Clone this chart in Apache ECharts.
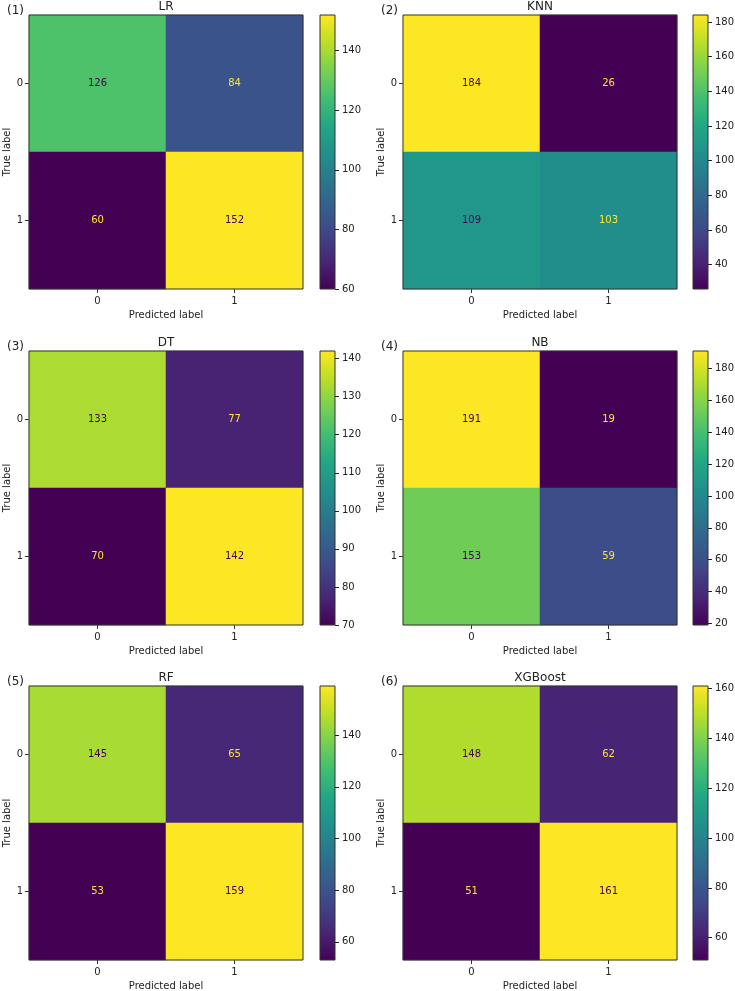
<!DOCTYPE html>
<html>
<head>
<meta charset="utf-8">
<script src="https://cdn.jsdelivr.net/npm/echarts@6/dist/echarts.min.js"></script>
<style>
html,body{margin:0;padding:0;background:#fff;}
#chart{width:735px;height:991px;}
</style>
</head>
<body>
<div id="chart"></div>
<script>
// ---- data ----
const models = ['LR', 'KNN', 'DT', 'NB', 'RF', 'XGBoost'];
const panelTags = ['(1)', '(2)', '(3)', '(4)', '(5)', '(6)'];
const classes = ['0', '1'];
const lrValues = [[126, 84], [60, 152]];
const knnValues = [[184, 26], [109, 103]];
const dtValues = [[133, 77], [70, 142]];
const nbValues = [[191, 19], [153, 59]];
const rfValues = [[145, 65], [53, 159]];
const xgbValues = [[148, 62], [51, 161]];
const lrTicks = [60, 80, 100, 120, 140];
const knnTicks = [40, 60, 80, 100, 120, 140, 160, 180];
const dtTicks = [70, 80, 90, 100, 110, 120, 130, 140];
const nbTicks = [20, 40, 60, 80, 100, 120, 140, 160, 180];
const rfTicks = [60, 80, 100, 120, 140];
const xgbTicks = [60, 80, 100, 120, 140, 160];

const allValues = [lrValues, knnValues, dtValues, nbValues, rfValues, xgbValues];
const allTicks = [lrTicks, knnTicks, dtTicks, nbTicks, rfTicks, xgbTicks];

const viridis = ['#440154', '#482475', '#414487', '#355f8d', '#2a788e', '#21918c',
  '#22a884', '#44bf70', '#7ad151', '#bddf26', '#fde725'];

// ---- layout ----
const FONT = 'DejaVu Sans';
const TXT = '#222';
const colLeft = [29, 403];
const cbLeft = [320, 693];
const rowTop = [15, 351, 686];
const plotW = 274, plotH = 274, cbW = 15;

const option = {
  backgroundColor: '#fff',
  animation: false,
  textStyle: { fontFamily: FONT },
  title: [], grid: [], xAxis: [], yAxis: [], series: [], visualMap: []
};

allValues.forEach((mat, i) => {
  const col = i % 2, row = Math.floor(i / 2);
  const L = colLeft[col], T = rowTop[row];
  const flat = mat.flat();
  const vmin = Math.min(...flat), vmax = Math.max(...flat);
  const thresh = (vmin + vmax) / 2;

  option.grid.push({ left: L, top: T, width: plotW, height: plotH, show: true,
    outerBoundsMode: 'none', containLabel: false,
    backgroundColor: 'transparent', borderColor: '#333', borderWidth: 1, z: 10 });
  option.grid.push({ left: cbLeft[col], top: T, width: cbW, height: plotH, show: true,
    outerBoundsMode: 'none', containLabel: false,
    borderColor: '#333', borderWidth: 1,
    backgroundColor: new echarts.graphic.LinearGradient(0, 1, 0, 0,
      viridis.map((c, k) => ({ offset: k / (viridis.length - 1), color: c }))) });

  const gH = 2 * i, gC = 2 * i + 1;
  option.xAxis.push({
    type: 'category', gridIndex: gH, data: classes, position: 'bottom',
    axisLine: { show: false },
    axisTick: { show: true, alignWithLabel: true, length: 4, lineStyle: { color: '#333' } },
    axisLabel: { color: TXT, fontSize: 10, margin: 7, fontFamily: FONT },
    splitLine: { show: false },
    name: 'Predicted label', nameLocation: 'middle', nameGap: 21,
    nameTextStyle: { color: TXT, fontSize: 10, fontFamily: FONT }
  });
  option.yAxis.push({
    type: 'category', gridIndex: gH, data: classes, inverse: true,
    axisLine: { show: false },
    axisTick: { show: true, alignWithLabel: true, length: 4, lineStyle: { color: '#333' } },
    axisLabel: { color: TXT, fontSize: 10, margin: 6, fontFamily: FONT },
    splitLine: { show: false },
    name: 'True label', nameLocation: 'middle', nameGap: 15,
    nameTextStyle: { color: TXT, fontSize: 10, fontFamily: FONT }
  });
  option.xAxis.push({ type: 'category', gridIndex: gC, data: [''], show: false });
  option.yAxis.push({
    type: 'value', gridIndex: gC, min: vmin, max: vmax, position: 'right',
    axisLine: { show: false, onZero: false },
    axisTick: { show: true, length: 4, inside: false, customValues: allTicks[i],
      lineStyle: { color: '#222', width: 1 } },
    axisLabel: { show: true, color: TXT, fontSize: 10, margin: 7, fontFamily: FONT,
      customValues: allTicks[i] },
    splitLine: { show: false }
  });

  const data = [];
  mat.forEach((r, ri) => r.forEach((v, ci) => {
    data.push({ value: [ci, ri, v],
      label: { color: v > thresh ? viridis[0] : viridis[viridis.length - 1] } });
  }));
  option.series.push({
    type: 'heatmap', xAxisIndex: 2 * i, yAxisIndex: 2 * i, data: data,
    label: { show: true, fontSize: 10, fontFamily: FONT,
      formatter: p => String(p.value[2]) },
    itemStyle: { borderWidth: 0 },
    emphasis: { disabled: true }
  });
  option.visualMap.push({ type: 'continuous', show: false, seriesIndex: i, dimension: 2,
    min: vmin, max: vmax, inRange: { color: viridis } });

  option.title.push({ text: models[i], left: L + plotW / 2, top: T - 14, textAlign: 'center',
    padding: 0, textStyle: { fontSize: 12, fontWeight: 'normal', color: TXT, fontFamily: FONT } });
  option.title.push({ text: panelTags[i], left: L - 5, top: T - 10, textAlign: 'right',
    padding: 0, textStyle: { fontSize: 12, fontWeight: 'normal', color: TXT, fontFamily: FONT } });
});

const chart = echarts.init(document.getElementById('chart'), null, { renderer: 'canvas' });
chart.setOption(option);
</script>
</body>
</html>
